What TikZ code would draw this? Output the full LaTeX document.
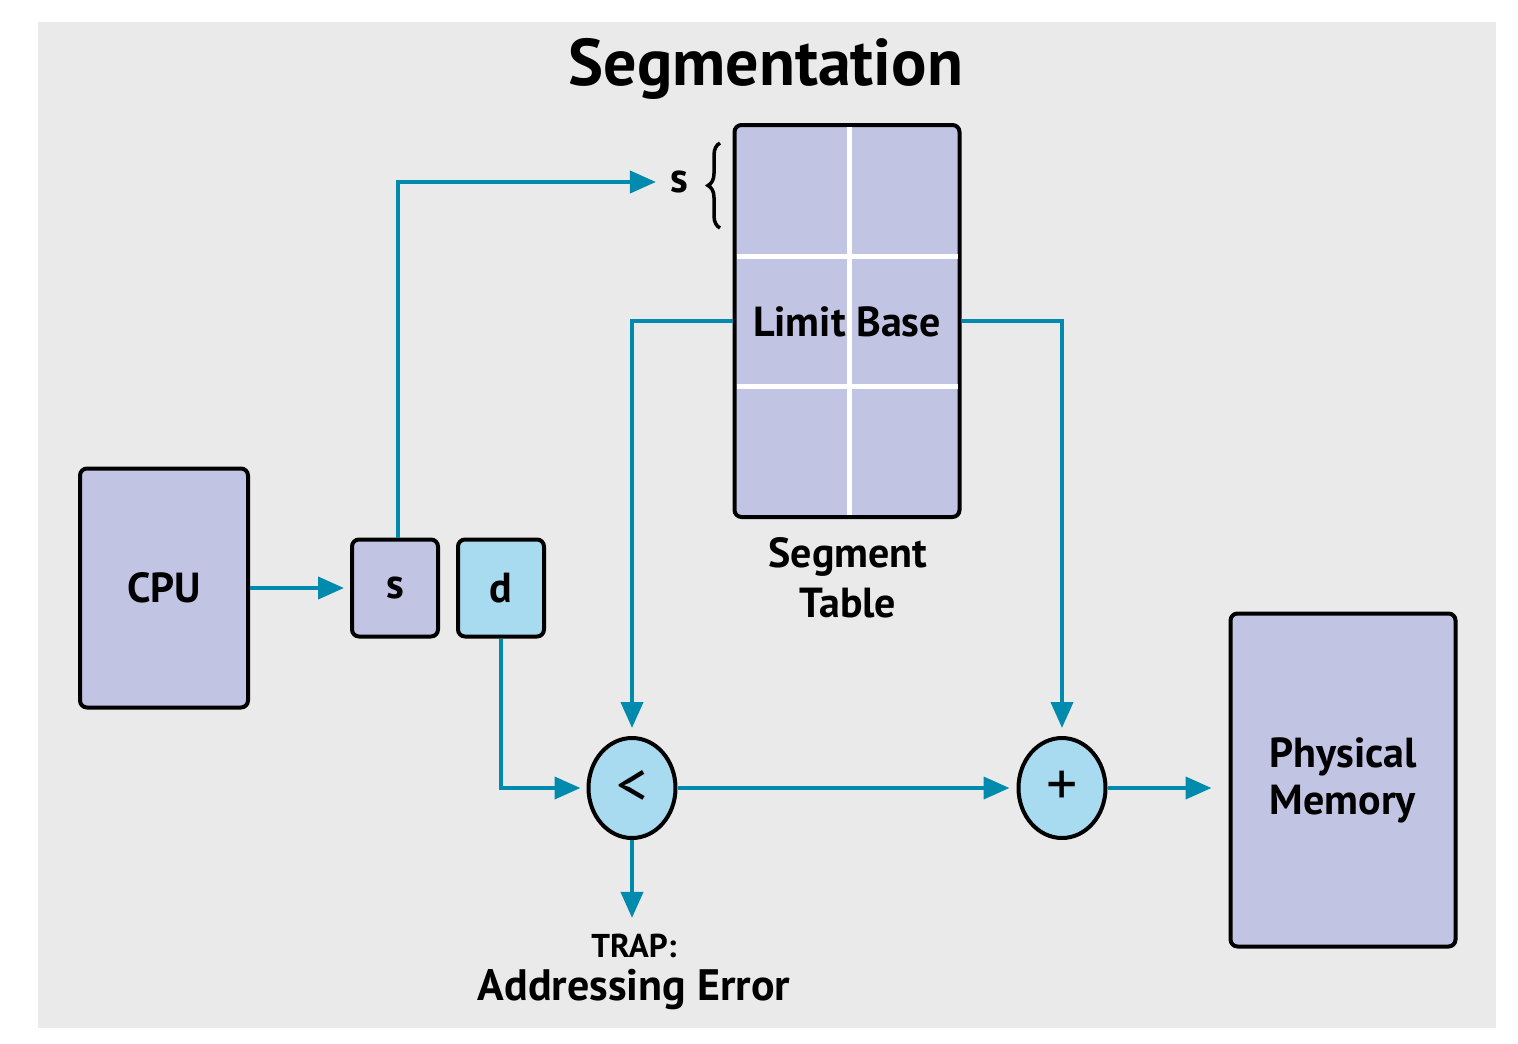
\documentclass[tikz,border=0pt]{standalone}
\usepackage{fontspec}
\setmainfont{PT Sans}
\usepackage{xcolor}
\usetikzlibrary{positioning,arrows.meta,shapes.geometric,decorations.pathreplacing}

\definecolor{segfill}{RGB}{194,196,228}
\definecolor{offfill}{RGB}{168,219,240}
\definecolor{wire}{RGB}{0,139,174}
\definecolor{panel}{RGB}{234,234,234}
\newcommand{\lblfont}{\fontsize{42}{50}\selectfont\bfseries}

\begin{document}
\begin{tikzpicture}[
  x=1pt, y=-1pt,
  box/.style={draw, line width=4pt, rounded corners=7pt, fill=segfill, inner sep=0pt, align=center, font=\lblfont},
  oper/.style={draw, ellipse, line width=4pt, fill=offfill, inner sep=0pt, minimum width=87pt, minimum height=100pt, font=\fontsize{62}{66}\selectfont},
  txt/.style={inner sep=0pt, align=center, font=\lblfont},
  arr/.style={draw=wire, line width=4pt, -{Triangle[length=26pt,width=22pt]}},
  grid/.style={white, line width=5pt, shorten <=4pt, shorten >=4pt}
]
\useasboundingbox (0,0) rectangle (1518,1044);
\fill[panel] (38,22) rectangle (1496,1028);

\node[txt, font=\fontsize{66}{70}\selectfont\bfseries] (title) at (766,69) {Segmentation};

\node[box, minimum width=168pt, minimum height=239pt] (cpu) at (164,588) {CPU};
\node[box, minimum width=86pt, minimum height=97pt] (s) at (395,588) {s};
\node[box, fill=offfill, minimum width=86pt, minimum height=97pt] (d) at (501,588) {d};

% segment table
\node[box, minimum width=225pt, minimum height=392pt] (table) at (847,321) {};
\draw[grid] ([xshift=2pt]table.north) -- ([xshift=2pt]table.south);
\draw[grid] ([yshift=65pt]table.west) -- ([yshift=65pt]table.east);
\draw[grid] ([yshift=-65pt]table.west) -- ([yshift=-65pt]table.east);
\node[txt] (lb) at (847,322) {Limit Base};
\node[txt] (segtab) at (848,578) {Segment\\Table};
\node[txt] (slbl) at (679,182) {s};
\draw[line width=3.5pt, decorate, decoration={brace, amplitude=12pt}] (720,228) -- (720,143);

\node[oper] (lt) at (632,788) {<};
\node[oper] (plus) at (1062,788) {+};

\node[box, minimum width=225pt, minimum height=333pt] (mem) at (1343,780) {Physical\\[-3pt]Memory};

\node[txt, font=\fontsize{33}{36}\selectfont\bfseries] (trap) at (634,946) {TRAP:};
\node[txt, font=\fontsize{44}{48}\selectfont\bfseries] (err) at (634,990) {Addressing Error};

\draw[arr, shorten >=6pt] (cpu) -- (s);
\draw[arr, shorten >=14pt] ([xshift=3pt]s.north) |- (slbl.west);
\draw[arr, shorten >=8pt] (table.west) -| (lt.north);
\draw[arr, shorten >=8pt] (table.east) -| (plus.north);
\draw[arr, shorten >=6pt] (d.south) |- (lt.west);
\draw[arr, shorten >=7pt] (lt) -- (plus);
\draw[arr, shorten >=17pt] (plus.east) -- (mem.west |- plus);
\draw[arr, shorten >=16pt] (lt.south) -- (lt.south |- trap.north);
\end{tikzpicture}
\end{document}
